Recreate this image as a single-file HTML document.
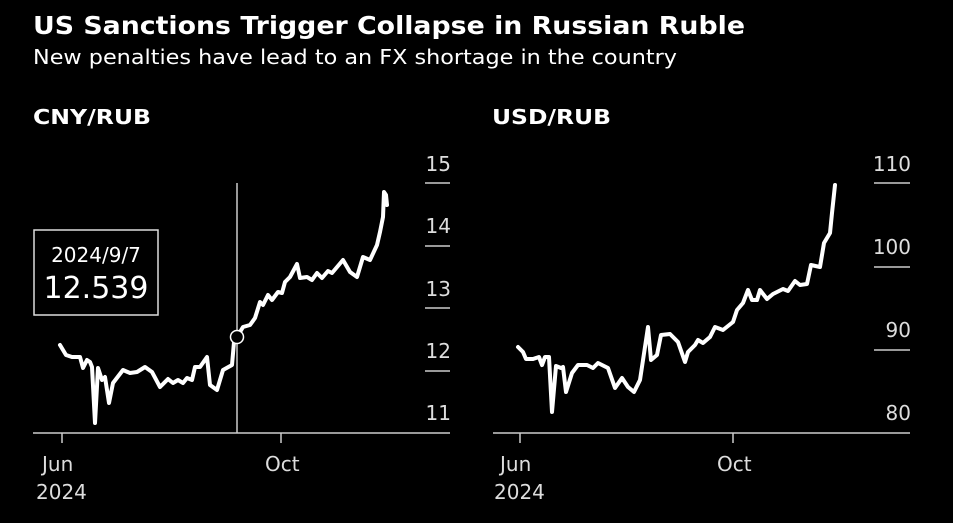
<!DOCTYPE html>
<html><head><meta charset="utf-8"><style>
html,body{margin:0;padding:0;background:#000;width:953px;height:523px;overflow:hidden}
svg{display:block;font-family:"DejaVu Sans","Liberation Sans",sans-serif}
</style></head><body>
<svg width="953" height="523" viewBox="0 0 953 523">
<text x="33" y="34" fill="#fff" font-size="25" font-weight="bold" textLength="712" lengthAdjust="spacingAndGlyphs">US Sanctions Trigger Collapse in Russian Ruble</text>
<text x="33" y="64" fill="#fff" font-size="20" textLength="644" lengthAdjust="spacingAndGlyphs">New penalties have lead to an FX shortage in the country</text>
<text x="33" y="124" fill="#fff" font-size="20" font-weight="bold" textLength="118" lengthAdjust="spacingAndGlyphs">CNY/RUB</text>
<text x="492" y="124" fill="#fff" font-size="20" font-weight="bold" textLength="119" lengthAdjust="spacingAndGlyphs">USD/RUB</text>
<g fill="#ddd" font-size="20" text-anchor="end">
<text x="451" y="171">15</text><text x="451" y="233">14</text><text x="451" y="296">13</text><text x="451" y="358">12</text><text x="451" y="420">11</text>
<text x="911" y="171">110</text><text x="911" y="254">100</text><text x="911" y="337">90</text><text x="911" y="420">80</text>
</g>
<g stroke="#ccc" stroke-width="1.5">
<line x1="425" y1="183" x2="450" y2="183"/><line x1="425" y1="246" x2="450" y2="246"/><line x1="425" y1="308" x2="450" y2="308"/><line x1="425" y1="371" x2="450" y2="371"/>
<line x1="874" y1="183" x2="910" y2="183"/><line x1="874" y1="267" x2="910" y2="267"/><line x1="874" y1="350" x2="910" y2="350"/>
<line x1="33" y1="433" x2="450" y2="433"/><line x1="493" y1="433" x2="910" y2="433"/>
<line x1="62" y1="433" x2="62" y2="443"/><line x1="281" y1="433" x2="281" y2="443"/>
<line x1="520" y1="433" x2="520" y2="443"/><line x1="733" y1="433" x2="733" y2="443"/>
<line x1="237" y1="183" x2="237" y2="433"/>
</g>
<g fill="#ddd" font-size="20">
<text x="42" y="471">Jun</text><text x="36" y="499">2024</text><text x="265" y="471">Oct</text>
<text x="500" y="471">Jun</text><text x="494" y="499">2024</text><text x="717" y="471">Oct</text>
</g>
<polyline fill="none" stroke="#fff" stroke-width="4" stroke-linejoin="round" stroke-linecap="round" points="60,345 66,355 72,357 80,357 83,368 87,360 90,362 92,367 95,423 98,368 102,380 105,377 109,403 113,383 123,370 130,373 137,372 145,367 152,372 160,387 168,379 173,383 178,380 183,383 187,378 192,380 195,367 200,367 207,357 210,385 217,390 223,370 232,365 234,342 237,337 243,327 250,325 255,318 260,302 263,305 268,295 272,300 278,292 282,293 285,282 290,277 297,264 300,278 307,277 312,280 317,273 322,278 328,271 332,273 343,260 350,272 357,277 363,257 370,260 377,245 380,232 383,217 384,192 386,195 387,205"/>
<polyline fill="none" stroke="#fff" stroke-width="4" stroke-linejoin="round" stroke-linecap="round" points="518,347 523,352 526,359 533,359 539,357 542,365 545,357 549,357 552,412 556,366 561,368 563,367 566,392 572,373 578,365 587,365 593,368 598,363 608,368 615,388 622,378 628,387 634,392 640,380 648,327 651,360 657,355 661,335 670,334 678,342 685,362 688,352 695,345 698,340 703,343 710,337 715,327 723,330 733,322 737,310 743,303 748,290 752,300 757,300 760,290 767,299 773,294 783,289 788,291 795,281 800,285 807,284 811,265 820,267 824,243 830,233 832,213 835,185"/>
<circle cx="237" cy="337" r="6.5" fill="#000" stroke="#fff" stroke-width="1.5"/>
<rect x="34" y="230" width="124" height="85" fill="#000" stroke="#ddd" stroke-width="1.5"/>
<text x="96" y="262" fill="#fff" font-size="20" text-anchor="middle">2024/9/7</text>
<text x="96" y="298" fill="#fff" font-size="30" text-anchor="middle">12.539</text>
</svg>
</body></html>
